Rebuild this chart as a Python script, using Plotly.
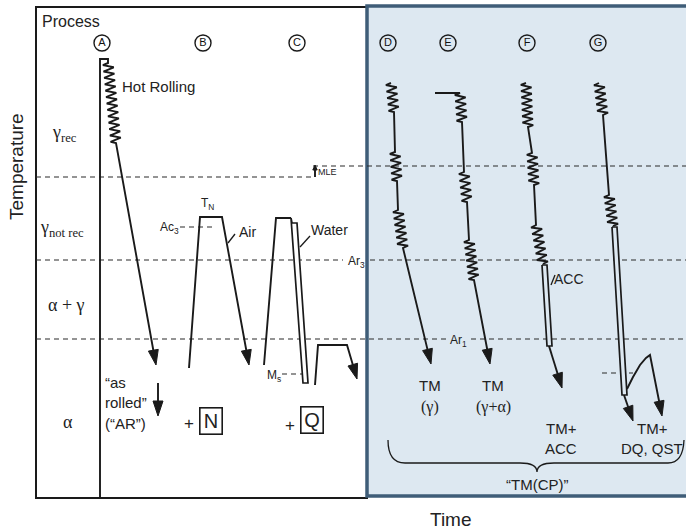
import numpy as np
import plotly.graph_objects as go

# ---------------- schematic data ----------------
# x = time (schematic units), y = temperature position (schematic units, larger = colder)
level_names = ["T_nr", "MLE", "Ar3", "Ar1"]
level_temps = [177, 166, 260, 339]
level_start = [36, 313, 36, 36]
level_end = [313, 686, 686, 686]
level_gaps = [None, None, (343, 370), (446, 471)]

process_letters = ["A", "B", "C", "D", "E", "F", "G"]
process_times = [102, 203, 297, 388, 448, 527, 598]
process_mark_temp = 43

region_labels = ["γ<sub>rec</sub>", "γ<sub>not rec</sub>", "α + γ", "α"]
region_times = [64, 62, 66, 68]
region_temps = [133, 228, 305, 422]

frame_times = [36, 367, 700]
frame_temps = [7, 498]
tmcp_temps = [6, 496]

# process paths (kind, points)
path_A = [("line", [(100, 498), (100, 59), (108, 59), (108, 63)]),
          ("zig", [(108, 63), (116, 143)]),
          ("arrow", [(116, 143), (156, 365)])]
path_AR = [("arrow", [(158, 383), (158, 416)])]
path_B = [("line", [(189, 368), (200, 217), (222, 217)]),
          ("arrow", [(222, 217), (249, 365)])]
path_C = [("line", [(264, 365), (276, 218), (291, 218)]),
          ("band", [(291, 218), (303, 383), (308, 383), (297, 223), (292, 223)]),
          ("line", [(315, 385), (318, 345), (347, 345)]),
          ("arrow", [(347, 345), (357, 379)])]
path_D = [("zig", [(391, 83), (394, 112)]),
          ("line", [(394, 112), (395, 152)]),
          ("zig", [(395, 152), (397, 181)]),
          ("line", [(397, 181), (398, 210)]),
          ("zig", [(398, 210), (403, 248)]),
          ("arrow", [(403, 248), (431, 364)])]
path_E = [("line", [(435, 93), (460, 93)]),
          ("zig", [(460, 93), (462, 122)]),
          ("line", [(462, 122), (464, 172)]),
          ("zig", [(464, 172), (467, 202)]),
          ("line", [(467, 202), (469, 240)]),
          ("zig", [(469, 240), (474, 280)]),
          ("arrow", [(474, 280), (490, 364)])]
path_F = [("zig", [(526, 83), (528, 127)]),
          ("line", [(528, 127), (532, 153)]),
          ("zig", [(532, 153), (534, 185)]),
          ("line", [(534, 185), (536, 225)]),
          ("zig", [(536, 225), (543, 264)]),
          ("band", [(542, 265), (547, 265), (552, 346), (547, 346)]),
          ("arrow", [(549, 346), (562, 388)])]
path_G = [("zig", [(599, 83), (603, 115)]),
          ("line", [(603, 115), (609, 195)]),
          ("zig", [(609, 195), (613, 226)]),
          ("band", [(612, 227), (617, 227), (627, 395), (622, 395)]),
          ("arrow", [(624, 395), (633, 421)]),
          ("line", [(627, 389), (633, 377), (640, 365), (646, 358), (650, 355)]),
          ("arrow", [(650, 355), (662, 416)])]
path_MLE = [("small_arrow", [(315, 177), (315, 165)])]

leader_lines = [[(228, 243), (235, 234)], [(300, 247), (310, 236)], [(551, 285), (555, 275)]]
short_dashes = [[(180, 227), (216, 227)], [(282, 374), (305, 374)], [(602, 373), (633, 373)]]

# text labels: (text, x, y, size, anchor)
sans_labels = [
    ("Process", 40, 21, 16, "left"),
    ("Hot Rolling", 120, 86, 15, "left"),
    ("“as", 103, 382, 15, "left"),
    ("rolled”", 103, 402, 15, "left"),
    ("(“AR”)", 103, 423, 15, "left"),
    ("T<sub>N</sub>", 207, 204, 12, "center"),
    ("Ac<sub>3</sub>", 169, 228, 12, "center"),
    ("Ar<sub>3</sub>", 356, 262, 12, "center"),
    ("Ar<sub>1</sub>", 458, 341, 12, "center"),
    ("M<sub>s</sub>", 274, 376, 12, "center"),
    ("MLE", 327, 172, 9, "center"),
    ("Air", 247, 232, 14, "center"),
    ("Water", 329, 230, 14, "center"),
    ("ACC", 569, 279, 14, "center"),
    ("+", 189, 423, 17, "center"),
    ("+", 290, 425, 17, "center"),
    ("TM", 430, 385, 15, "center"),
    ("TM", 493, 385, 15, "center"),
    ("TM+", 561, 428, 15, "center"),
    ("ACC", 561, 448, 15, "center"),
    ("TM+", 652, 428, 15, "center"),
    ("DQ, QST", 652, 448, 15, "center"),
    ("“TM(CP)”", 537, 484, 15, "center"),
]
serif_labels = [("(γ)", 430, 407, 16), ("(γ+α)", 493, 407, 16)]
boxed_labels = [("N", 211, 421), ("Q", 312, 420)]
brace_points = [(388, 440), (388, 463), (405, 463), (520, 463), (537, 463), (537, 472),
                (537, 463), (554, 463), (668, 463), (683, 463), (684, 440)]

LINE = "#1a1a1a"
BLUE_BG = "#dde8f1"
BLUE_EDGE = "#3f5d78"
SANS = "Liberation Sans"
SERIF = "Liberation Serif"


def zig_points(p0, p1, amp=5.3, step=3.2):
    p0 = np.array(p0, float)
    p1 = np.array(p1, float)
    d = p1 - p0
    L = np.hypot(*d)
    u = d / L
    nrm = np.array([-u[1], u[0]])
    m = max(4, int(round(L / step)))
    pts = [p0]
    for i in range(1, m + 1):
        s = 1 if i % 2 else -1
        pts.append(p0 + d * (i - 0.5) / m + nrm * amp * s)
    pts.append(p1)
    return [tuple(p) for p in pts]


def head(a, b, hl=15, hw=5.0):
    a = np.array(a, float)
    b = np.array(b, float)
    u = (b - a) / np.hypot(*(b - a))
    nrm = np.array([-u[1], u[0]])
    base = b - u * hl
    tri = [tuple(b), tuple(base + nrm * hw), tuple(base - nrm * hw), tuple(b)]
    return tri, tuple(base + u * 2)


fig = go.Figure()

# dashed temperature levels
for name, t, x0, x1, gap in zip(level_names, level_temps, level_start, level_end, level_gaps):
    if gap is None:
        xs = [x0, x1]
        ys = [t, t]
    else:
        xs = [x0, gap[0], None, gap[1], x1]
        ys = [t, t, None, t, t]
    fig.add_trace(go.Scatter(x=xs, y=ys, mode="lines",
                             line=dict(color="#2a2a2a", width=1.2, dash="5px,4px"),
                             hoverinfo="skip"))
for seg in short_dashes:
    fig.add_trace(go.Scatter(x=[p[0] for p in seg], y=[p[1] for p in seg], mode="lines",
                             line=dict(color="#2a2a2a", width=1.2, dash="5px,4px"),
                             hoverinfo="skip"))


def render(path, bg):
    xs, ys = [], []
    heads = []
    bands = []
    last = None

    def add(pts):
        nonlocal last
        if last is not None and (abs(pts[0][0] - last[0]) > 0.5 or abs(pts[0][1] - last[1]) > 0.5):
            xs.append(None)
            ys.append(None)
        for p in pts:
            xs.append(p[0])
            ys.append(p[1])
        last = pts[-1]

    for kind, pts in path:
        if kind == "line":
            add(pts)
        elif kind == "zig":
            add(zig_points(pts[0], pts[1]))
        elif kind == "arrow":
            tri, base = head(pts[0], pts[1])
            add([pts[0], base])
            heads.append(tri)
            last = pts[1]
        elif kind == "small_arrow":
            tri, base = head(pts[0], pts[1], hl=5, hw=2.2)
            add([pts[0], base])
            heads.append(tri)
            last = pts[1]
        elif kind == "band":
            bands.append(pts)
            last = None
            xs.append(None)
            ys.append(None)
    fig.add_trace(go.Scatter(x=xs, y=ys, mode="lines",
                             line=dict(color=LINE, width=1.9), hoverinfo="skip"))
    for b in bands:
        bp = b + [b[0]]
        fig.add_trace(go.Scatter(x=[p[0] for p in bp], y=[p[1] for p in bp], mode="lines",
                                 fill="toself", fillcolor=bg,
                                 line=dict(color=LINE, width=1.7), hoverinfo="skip"))
    for tri in heads:
        fig.add_trace(go.Scatter(x=[p[0] for p in tri], y=[p[1] for p in tri], mode="lines",
                                 fill="toself", fillcolor=LINE,
                                 line=dict(color=LINE, width=1), hoverinfo="skip"))


for p in [path_A, path_AR, path_B, path_C, path_MLE]:
    render(p, "white")
for p in [path_D, path_E, path_F, path_G]:
    render(p, BLUE_BG)

for seg in leader_lines:
    fig.add_trace(go.Scatter(x=[q[0] for q in seg], y=[q[1] for q in seg], mode="lines",
                             line=dict(color=LINE, width=1.3), hoverinfo="skip"))

# process markers
fig.add_trace(go.Scatter(x=process_times, y=[process_mark_temp] * len(process_times),
                         mode="markers+text", text=process_letters,
                         textposition="middle center",
                         textfont=dict(family=SANS, size=11, color="#111"),
                         marker=dict(symbol="circle", size=16, color="rgba(0,0,0,0)",
                                     line=dict(color=LINE, width=1.4)),
                         hoverinfo="skip"))

shapes = [
    dict(type="rect", xref="x", yref="y", x0=frame_times[0], x1=frame_times[1],
         y0=frame_temps[0], y1=frame_temps[1], line=dict(color=LINE, width=2),
         fillcolor="white", layer="below"),
    dict(type="rect", xref="x", yref="y", x0=frame_times[1], x1=frame_times[2],
         y0=tmcp_temps[0], y1=tmcp_temps[1], line=dict(color=BLUE_EDGE, width=3.5),
         fillcolor=BLUE_BG, layer="below"),
]
bp = brace_points
brace_path = (f"M {bp[0][0]},{bp[0][1]} Q {bp[1][0]},{bp[1][1]} {bp[2][0]},{bp[2][1]} "
              f"L {bp[3][0]},{bp[3][1]} Q {bp[4][0]},{bp[4][1]} {bp[5][0]},{bp[5][1]} "
              f"Q {bp[6][0]},{bp[6][1]} {bp[7][0]},{bp[7][1]} L {bp[8][0]},{bp[8][1]} "
              f"Q {bp[9][0]},{bp[9][1]} {bp[10][0]},{bp[10][1]}")
shapes.append(dict(type="path", xref="x", yref="y", path=brace_path,
                   line=dict(color=LINE, width=1.3)))

annotations = []
for text, x, y, size, anchor in sans_labels:
    annotations.append(dict(x=x, y=y, xref="x", yref="y", text=text, showarrow=False,
                            xanchor=anchor, yanchor="middle",
                            font=dict(family=SANS, size=size, color="#222")))
for text, x, y, size in serif_labels:
    annotations.append(dict(x=x, y=y, xref="x", yref="y", text=text, showarrow=False,
                            xanchor="center", yanchor="middle",
                            font=dict(family=SERIF, size=size, color="#222")))
for text, x, y in zip(region_labels, region_times, region_temps):
    annotations.append(dict(x=x, y=y, xref="x", yref="y", text=text, showarrow=False,
                            xanchor="center", yanchor="middle",
                            font=dict(family=SERIF, size=18, color="#222")))
for text, x, y in boxed_labels:
    annotations.append(dict(x=x, y=y, xref="x", yref="y", text=text, showarrow=False,
                            xanchor="center", yanchor="middle", width=19, height=23,
                            bordercolor=LINE, borderwidth=1.6, borderpad=1,
                            font=dict(family=SANS, size=20, color="#222")))
annotations.append(dict(x=16, y=167, xref="x", yref="y", text="Temperature", showarrow=False,
                        textangle=-90, xanchor="center", yanchor="middle",
                        font=dict(family=SANS, size=19, color="#222")))
annotations.append(dict(x=451, y=519, xref="x", yref="y", text="Time", showarrow=False,
                        xanchor="center", yanchor="middle",
                        font=dict(family=SANS, size=19, color="#222")))

fig.update_layout(
    width=686, height=531,
    margin=dict(l=0, r=0, t=0, b=0),
    paper_bgcolor="white", plot_bgcolor="white",
    showlegend=False, hovermode=False,
    xaxis=dict(range=[0, 686], visible=False, fixedrange=True),
    yaxis=dict(range=[531, 0], visible=False, fixedrange=True),
    shapes=shapes, annotations=annotations,
)

fig.write_html("out.html", config={"displayModeBar": False},
               post_script="document.body.style.margin='0';document.body.style.overflow='hidden';")
